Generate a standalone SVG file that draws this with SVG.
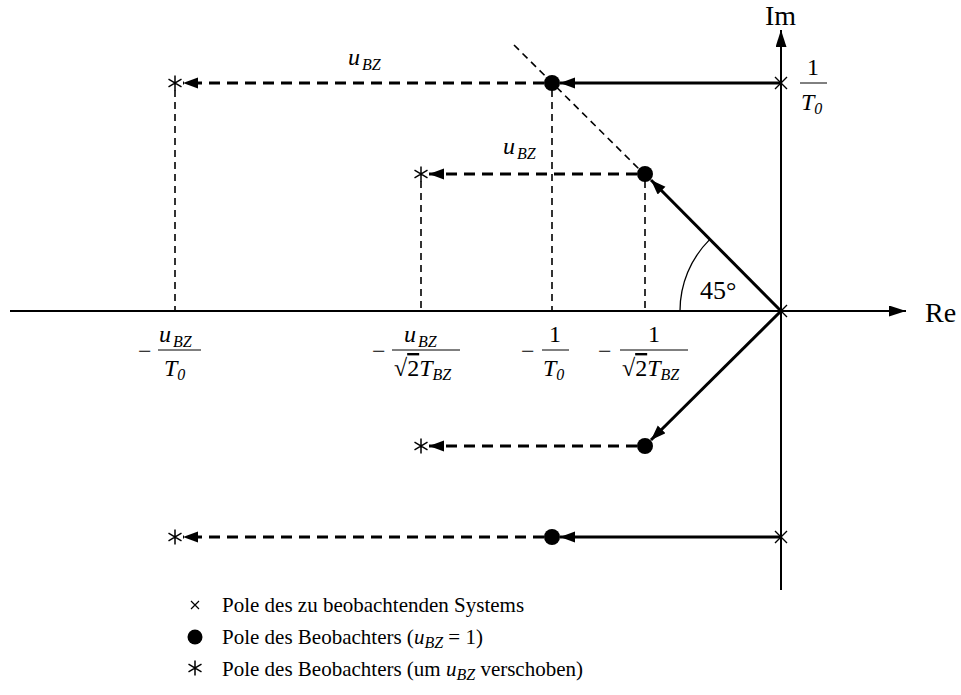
<svg xmlns="http://www.w3.org/2000/svg" width="961" height="695" viewBox="0 0 961 695">
<style>
text{font-family:"Liberation Serif","Times New Roman",serif;fill:#000}
.t{font-size:24px}
.lg{font-size:21px}
.i{font-style:italic}
.s{font-size:16px;font-style:italic}
.ax{stroke:#000;stroke-width:2;fill:none}
.sol{stroke:#000;stroke-width:3;fill:none}
.dsh{stroke:#000;stroke-width:3;fill:none;stroke-dasharray:11,7}
.vd{stroke:#000;stroke-width:1.6;fill:none;stroke-dasharray:7,5}
.thin{stroke:#000;stroke-width:1.3;fill:none}
.bar{stroke:#000;stroke-width:1}
</style>
<defs>
<marker id="ah" markerUnits="userSpaceOnUse" markerWidth="16" markerHeight="12" refX="15" refY="5.5" orient="auto">
<path d="M0,0 L15,5.5 L0,11 z" fill="#000"/>
</marker>
<marker id="axh" markerUnits="userSpaceOnUse" markerWidth="18" markerHeight="12" refX="17" refY="5.5" orient="auto">
<path d="M0,0 L17,5.5 L0,11 z" fill="#000"/>
</marker>
<g id="ast"><path d="M0,-7.5 V7.5 M-6.5,-3.8 L6.5,3.8 M-6.5,3.8 L6.5,-3.8" stroke="#000" stroke-width="1.5"/></g>
<g id="crs"><path d="M-6,-6 L6,6 M-6,6 L6,-6" stroke="#000" stroke-width="1.4"/></g>
</defs>

<g id="axes">
<line class="ax" x1="10" y1="311" x2="906" y2="311" marker-end="url(#axh)"/>
<line class="ax" x1="781" y1="590" x2="781" y2="30" marker-end="url(#axh)"/>
<text x="925" y="322" font-size="28">Re</text>
<text x="765" y="25" font-size="28">Im</text>
</g>

<g id="connectors">
<line class="vd" x1="175" y1="90" x2="175" y2="311"/>
<line class="vd" x1="421" y1="181" x2="421" y2="311"/>
<line class="vd" x1="552" y1="90" x2="552" y2="311"/>
<line class="vd" x1="645" y1="181" x2="645" y2="311"/>
<line class="vd" x1="514" y1="45" x2="640" y2="170"/>
<line class="sol" x1="781" y1="83" x2="560" y2="83" marker-end="url(#ah)"/>
<line class="sol" x1="781" y1="537" x2="560" y2="537" marker-end="url(#ah)"/>
<line class="sol" x1="781" y1="311" x2="651" y2="180" marker-end="url(#ah)"/>
<line class="sol" x1="781" y1="311" x2="651" y2="440" marker-end="url(#ah)"/>
<line class="dsh" x1="544" y1="83" x2="183" y2="83" marker-end="url(#ah)"/>
<line class="dsh" x1="637" y1="174" x2="429" y2="174" marker-end="url(#ah)"/>
<line class="dsh" x1="637" y1="446" x2="429" y2="446" marker-end="url(#ah)"/>
<line class="dsh" x1="544" y1="537" x2="183" y2="537" marker-end="url(#ah)"/>
<path class="thin" d="M680,311 A101,101 0 0 1 709.6,239.6"/>
</g>

<g id="poles-system">
<use href="#crs" x="781" y="83"/>
<use href="#crs" x="781" y="311"/>
<use href="#crs" x="781" y="537"/>
</g>
<g id="poles-observer">
<circle cx="552" cy="83" r="8"/>
<circle cx="645" cy="174" r="8"/>
<circle cx="645" cy="446" r="8"/>
<circle cx="552" cy="537" r="8"/>
</g>
<g id="poles-shifted">
<use href="#ast" x="175" y="83"/>
<use href="#ast" x="421" y="174"/>
<use href="#ast" x="421" y="446"/>
<use href="#ast" x="175" y="537"/>
</g>

<g id="labels">
<text x="700" y="299" font-size="26">45°</text>
<text class="t i" x="348" y="65">u<tspan class="s" dx="2" dy="5">BZ</tspan></text>
<text class="t i" x="503" y="154">u<tspan class="s" dx="2" dy="5">BZ</tspan></text>
<text class="t" x="807" y="75">1</text>
<line class="bar" x1="800" y1="83" x2="827" y2="83"/>
<text class="t i" x="801" y="110">T<tspan class="s" font-style="normal" dy="4">0</tspan></text>
<text class="t" x="138" y="359">−</text>
<text class="t i" x="159" y="342">u<tspan class="s" dx="2" dy="5">BZ</tspan></text>
<line class="bar" x1="158" y1="350" x2="201" y2="350"/>
<text class="t i" x="164" y="376">T<tspan class="s" font-style="normal" dy="4">0</tspan></text>
<text class="t" x="372" y="359">−</text>
<text class="t i" x="404" y="342">u<tspan class="s" dx="2" dy="5">BZ</tspan></text>
<line class="bar" x1="392" y1="350" x2="460" y2="350"/>
<text class="t" x="394" y="376">√<tspan text-decoration="overline">2</tspan><tspan class="i">T</tspan><tspan class="s" dy="4">BZ</tspan></text>
<text class="t" x="521" y="359">−</text>
<text class="t" x="549" y="342">1</text>
<line class="bar" x1="542" y1="350" x2="569" y2="350"/>
<text class="t i" x="543" y="376">T<tspan class="s" font-style="normal" dy="4">0</tspan></text>
<text class="t" x="598" y="359">−</text>
<text class="t" x="648" y="342">1</text>
<line class="bar" x1="620" y1="350" x2="688" y2="350"/>
<text class="t" x="622" y="376">√<tspan text-decoration="overline">2</tspan><tspan class="i">T</tspan><tspan class="s" dy="4">BZ</tspan></text>
</g>

<g id="legend">
<path d="M191,601 L199,609 M191,609 L199,601" stroke="#000" stroke-width="1.2"/>
<text class="lg" x="222" y="612">Pole des zu beobachtenden Systems</text>
<circle cx="195" cy="637" r="7.5"/>
<text class="lg" x="222" y="644">Pole des Beobachters (<tspan class="i">u</tspan><tspan class="s" dy="4">BZ</tspan><tspan dy="-4"> = 1)</tspan></text>
<use href="#ast" x="195" y="668"/>
<text class="lg" x="222" y="676">Pole des Beobachters (um <tspan class="i">u</tspan><tspan class="s" dy="4">BZ</tspan><tspan dy="-4"> verschoben)</tspan></text>
</g>
</svg>
